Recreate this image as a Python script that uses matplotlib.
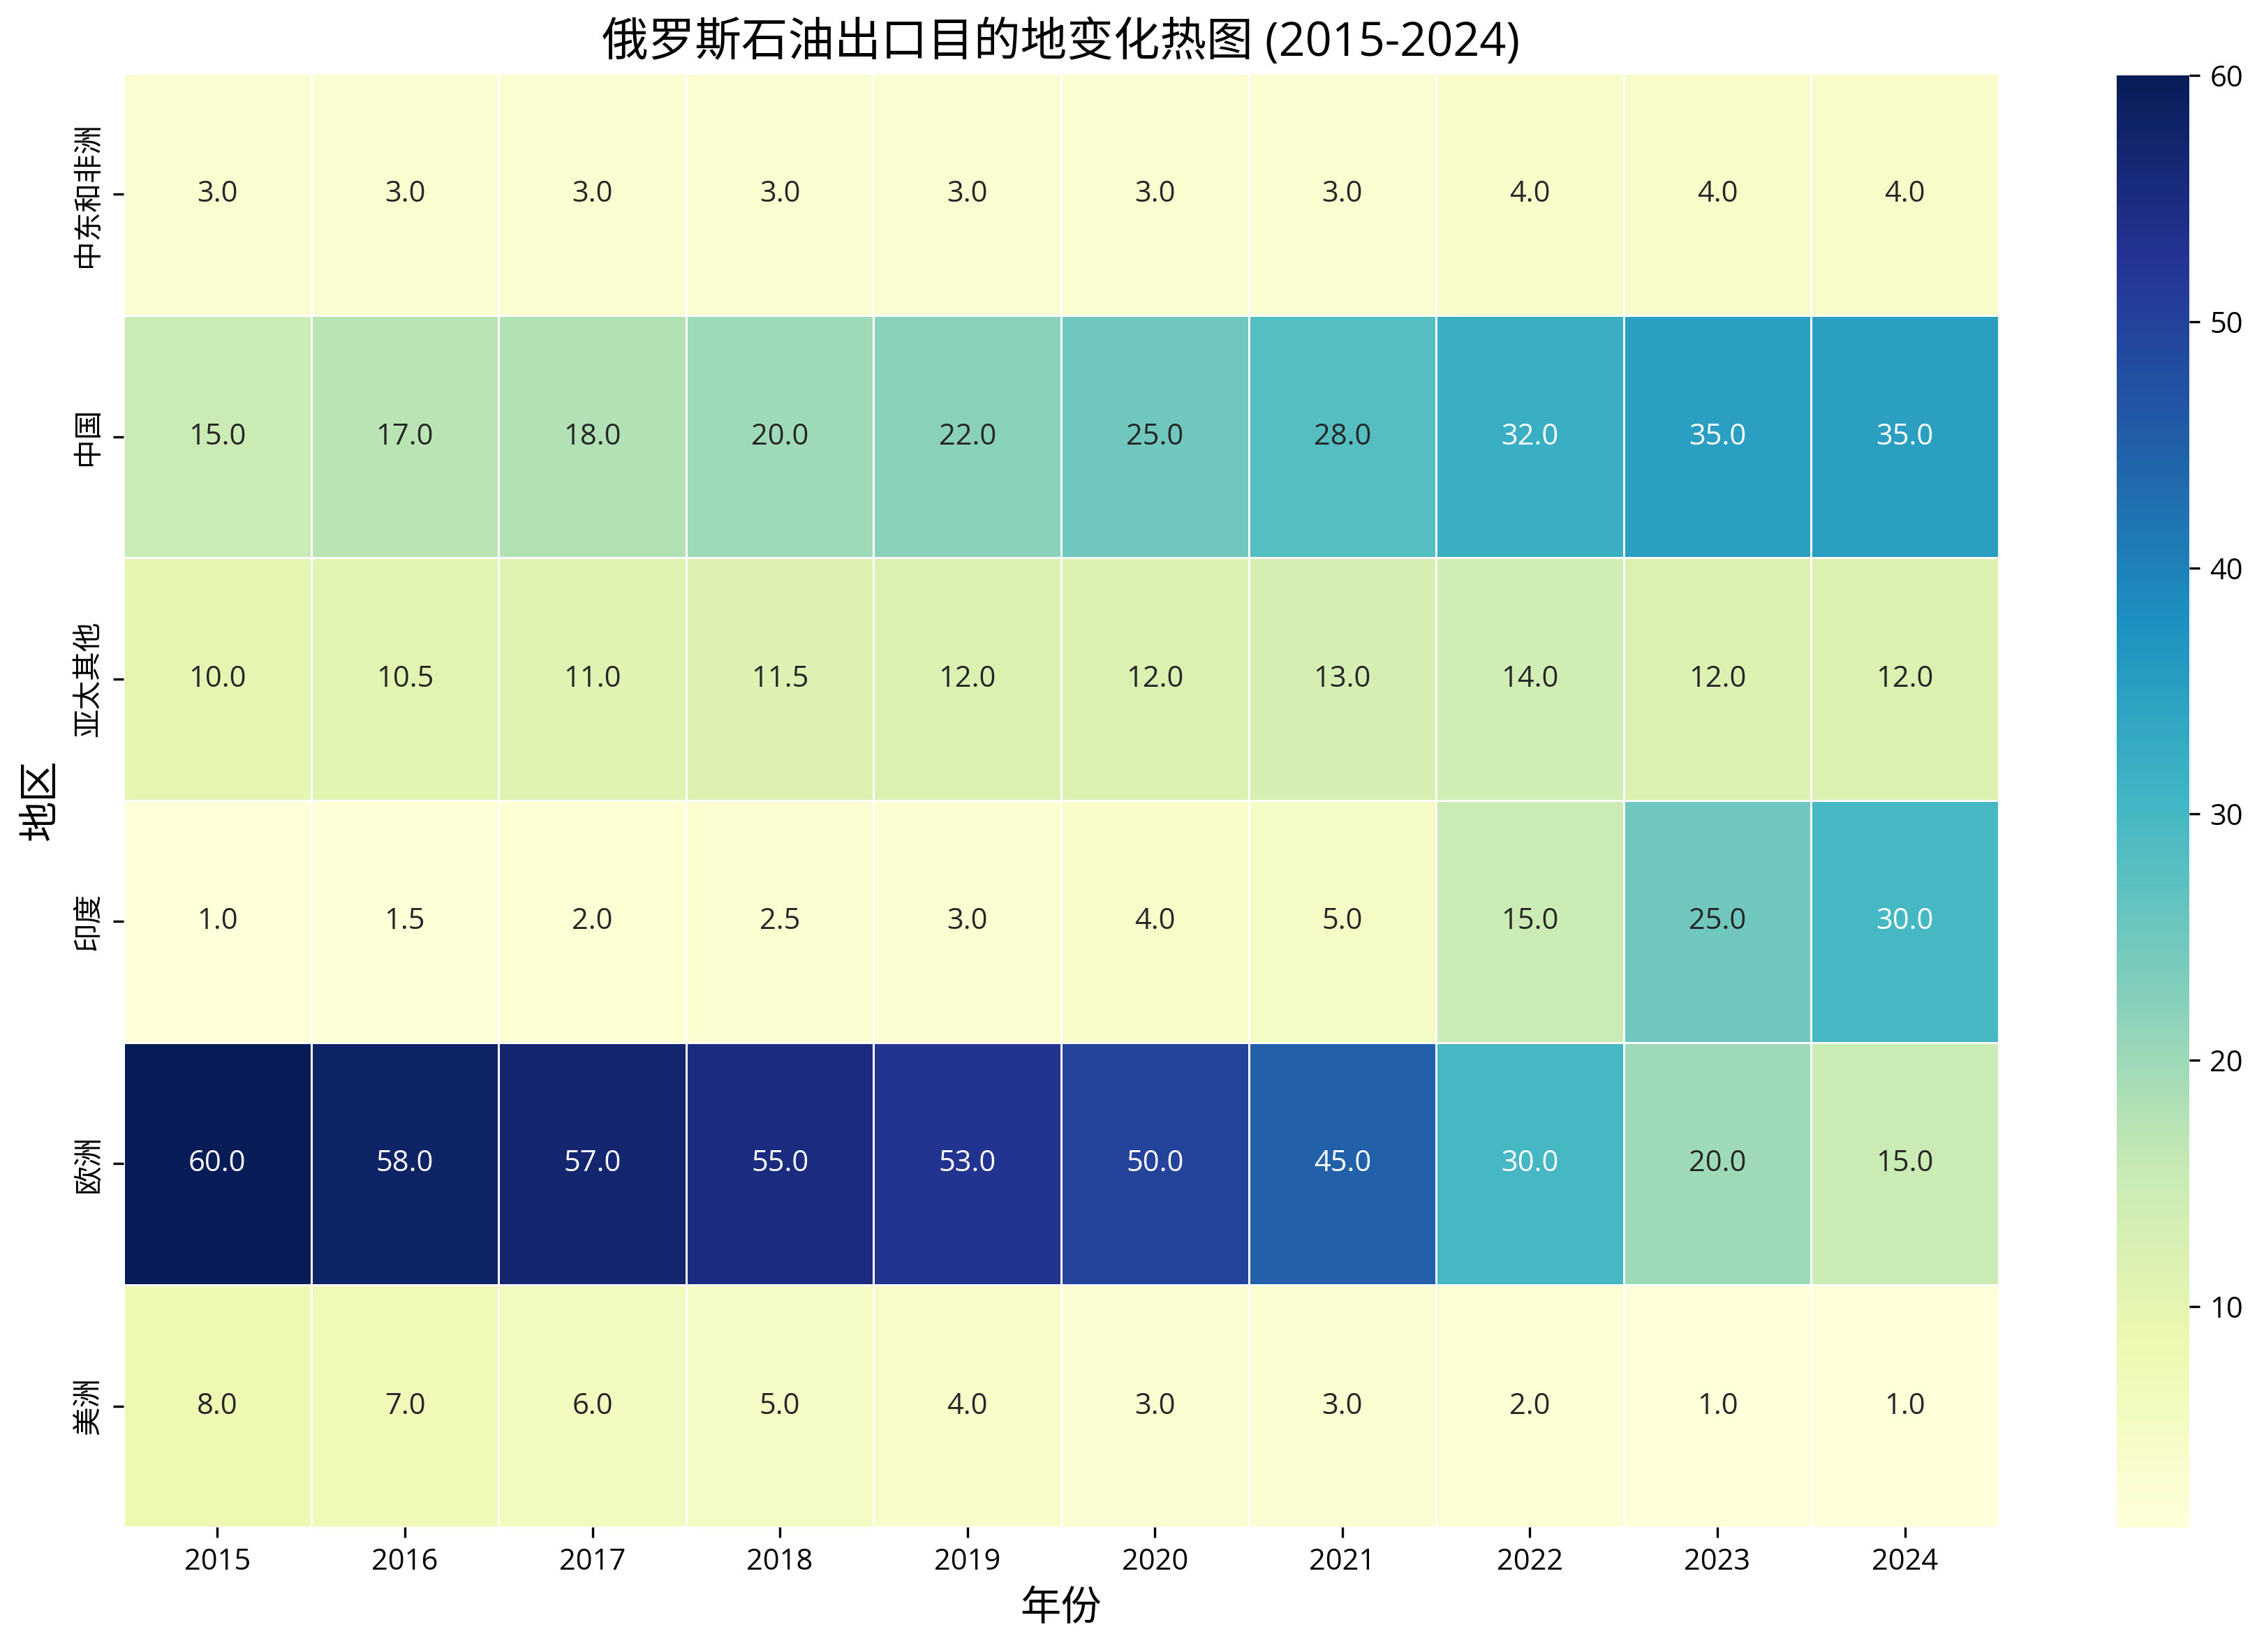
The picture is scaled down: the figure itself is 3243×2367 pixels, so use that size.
import matplotlib
matplotlib.use("Agg")
import matplotlib.pyplot as plt
import numpy as np
import seaborn as sns

years = [2015, 2016, 2017, 2018, 2019, 2020, 2021, 2022, 2023, 2024]
regions = ['中东和非洲', '中国', '亚太其他', '印度', '欧洲', '美洲']

mideast_africa = [3, 3, 3, 3, 3, 3, 3, 4, 4, 4]
china = [15, 17, 18, 20, 22, 25, 28, 32, 35, 35]
asia_other = [10, 10.5, 11, 11.5, 12, 12, 13, 14, 12, 12]
india = [1, 1.5, 2, 2.5, 3, 4, 5, 15, 25, 30]
europe = [60, 58, 57, 55, 53, 50, 45, 30, 20, 15]
americas = [8, 7, 6, 5, 4, 3, 3, 2, 1, 1]

values = np.array([mideast_africa, china, asia_other, india, europe, americas])

plt.rcParams['font.family'] = ['Open Sans', 'Noto Sans CJK SC', 'DejaVu Sans']
plt.rcParams['axes.unicode_minus'] = False

fig = plt.figure(figsize=(10.81, 7.89), dpi=300)
ax = fig.add_axes([0.0546, 0.0755, 0.8282, 0.8802])
cax = fig.add_axes([0.9349, 0.0752, 0.0321, 0.8790])
sns.heatmap(values, annot=True, fmt='.1f', cmap='YlGnBu', linewidths=0.72,
            xticklabels=years, yticklabels=regions, ax=ax, cbar_ax=cax)
ax.set_title('俄罗斯石油出口目的地变化热图 (2015-2024)', fontsize=16)
ax.set_xlabel('年份', fontsize=14)
ax.set_ylabel('地区', fontsize=14)
plt.savefig('out.png')
